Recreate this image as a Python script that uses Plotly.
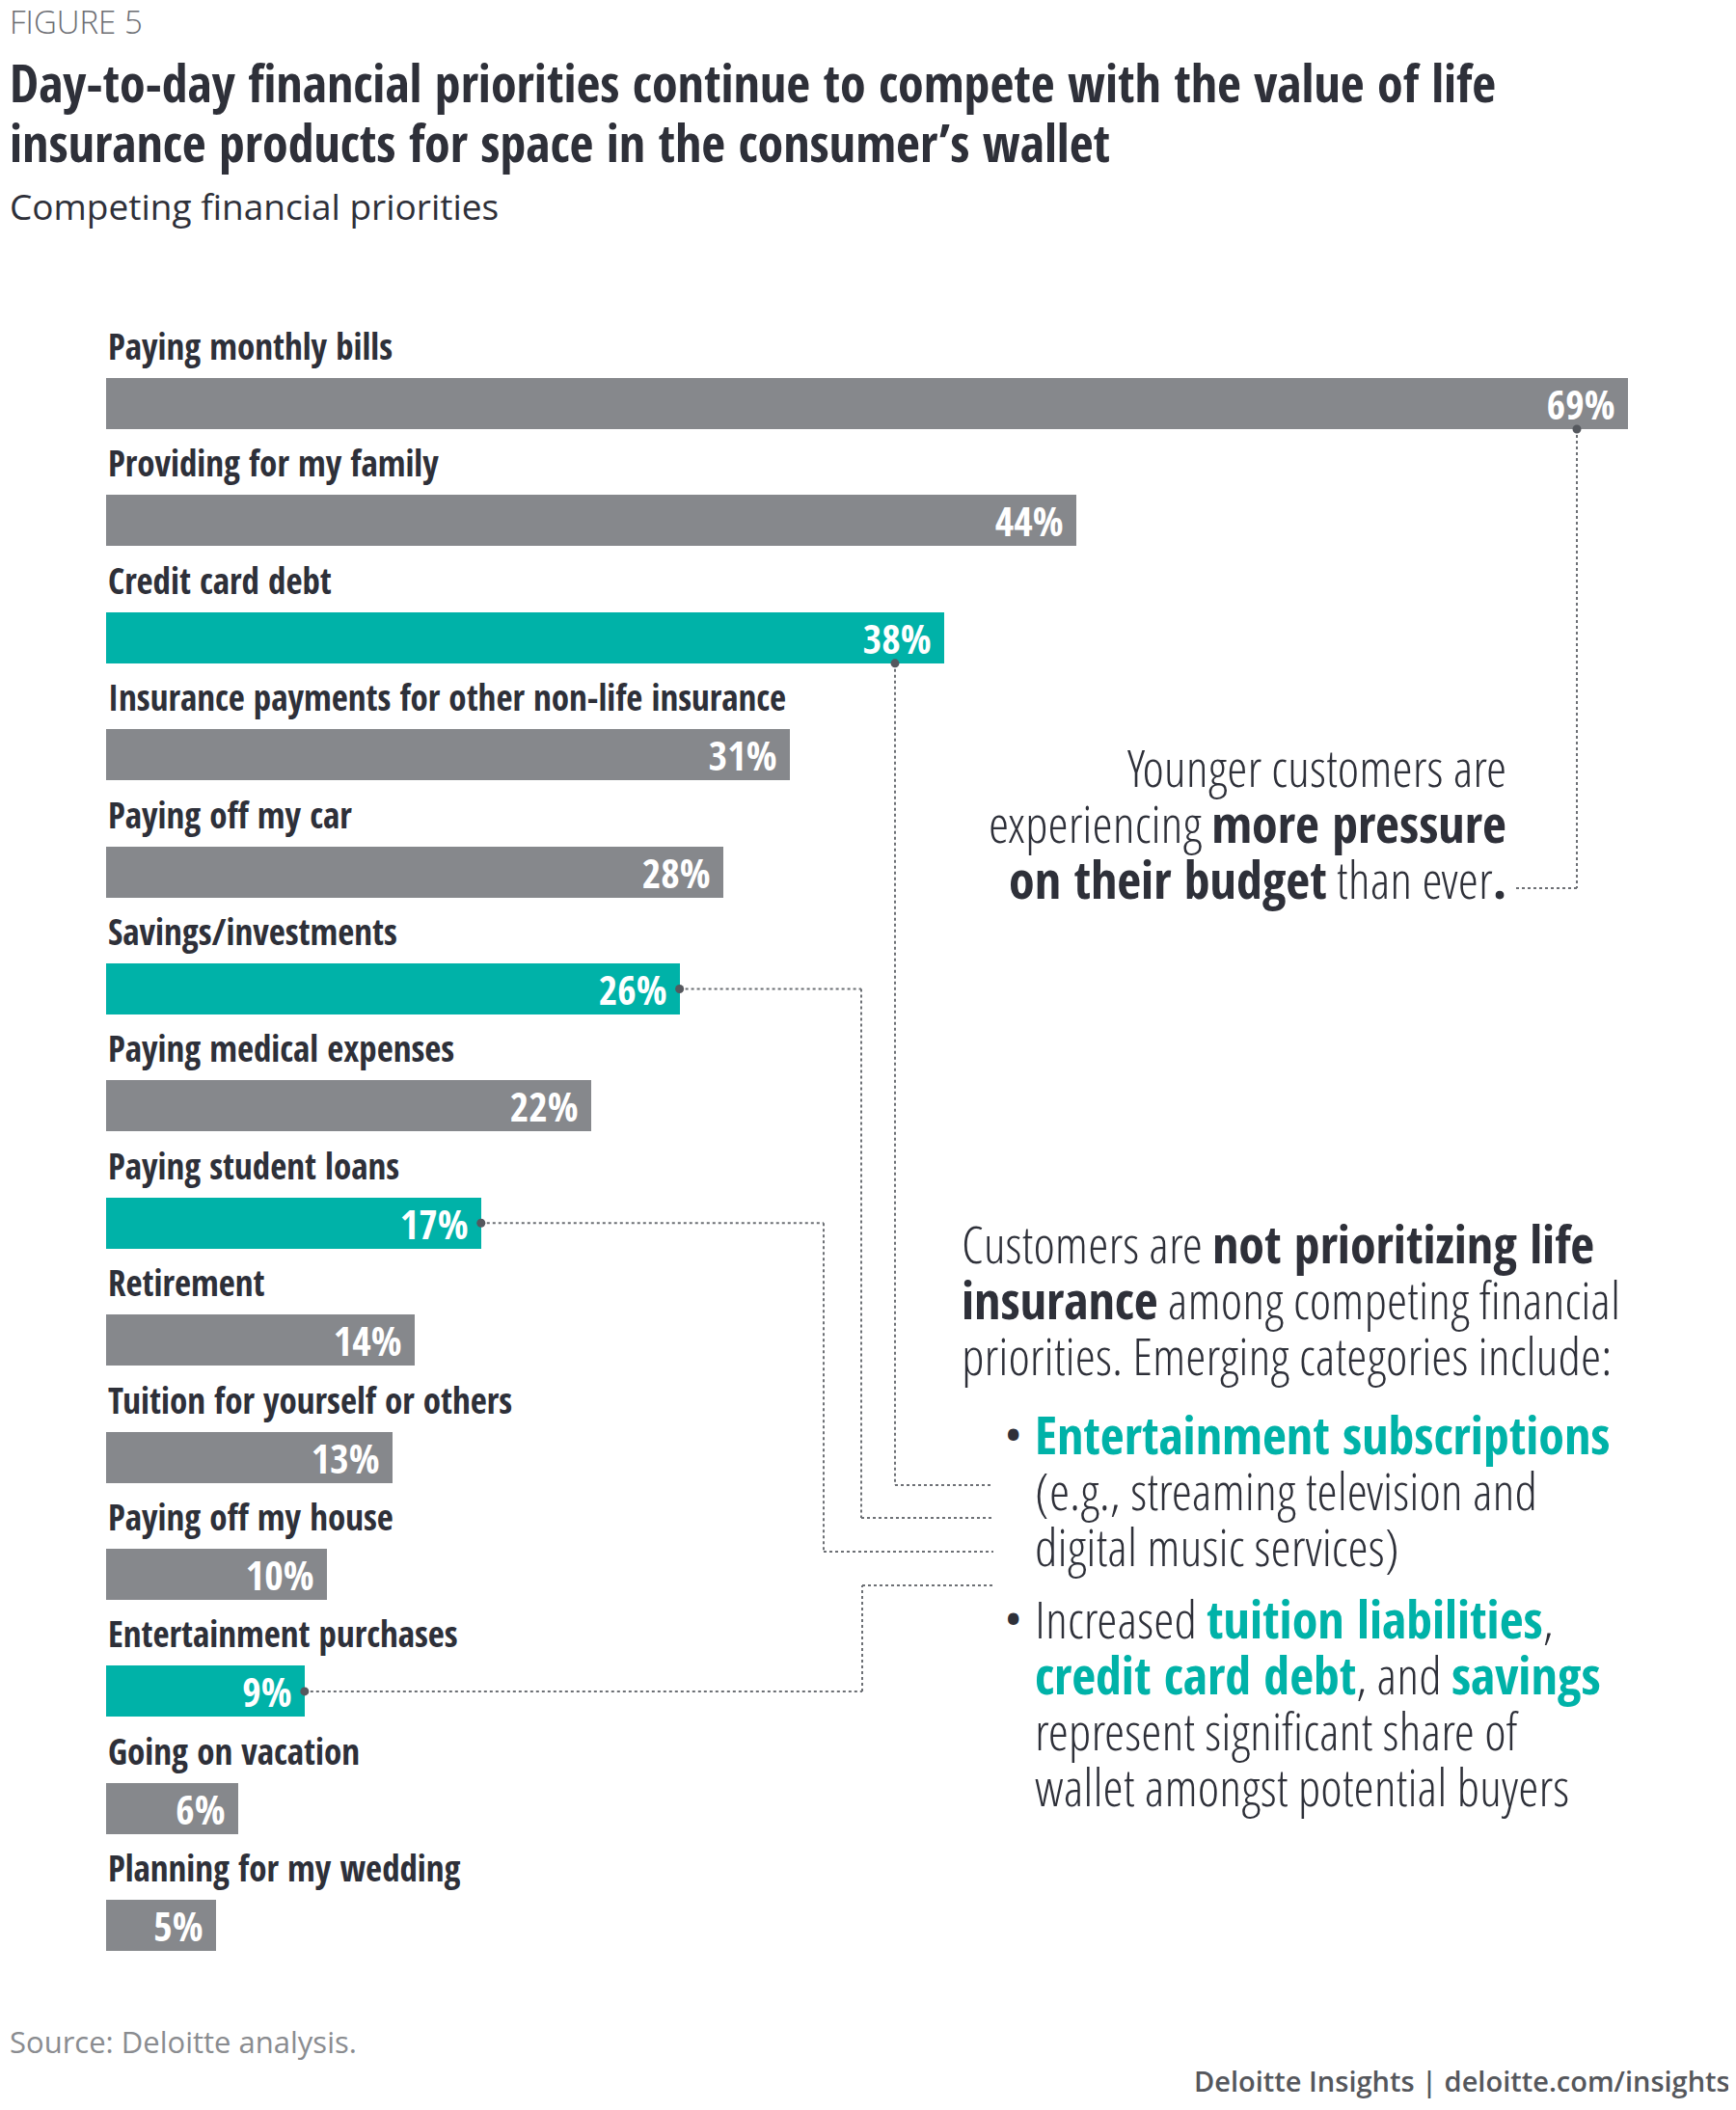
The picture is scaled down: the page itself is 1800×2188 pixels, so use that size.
import plotly.graph_objects as go

OFF = 8                      # browser body margin
W, H = 1800 - OFF, 2188 - 2 * OFF

categories = ["Paying monthly bills", "Providing for my family", "Credit card debt",
              "Insurance payments for other non-life insurance", "Paying off my car",
              "Savings/investments", "Paying medical expenses", "Paying student loans",
              "Retirement", "Tuition for yourself or others", "Paying off my house",
              "Entertainment purchases", "Going on vacation", "Planning for my wedding"]
values = [69, 44, 38, 31, 28, 26, 22, 17, 14, 13, 10, 9, 6, 5]
emerging = ["Credit card debt", "Savings/investments", "Paying student loans",
            "Entertainment purchases"]

GRAY = "#86888c"
TEAL = "#00b2a8"
DARK = "#2e3039"
DOTC = "#6d7075"
COND = "Open Sans Condensed, sans-serif"
CONDL = "Open Sans Condensed Light, Open Sans Condensed, sans-serif"
OPEN = "Open Sans, sans-serif"

# pixel geometry (reference pixels)
X0, PXU = 110, 22.87      # x=0 at px 110, 22.87 px per percent
Y0, ROW = 418.5, 121.4    # first bar centre, row step
BW = 0.437


def xp(px):
    return (px - OFF) / W


def yp(py):
    return 1 - (py - OFF) / H


def dx(px):
    return (px - X0) / PXU


def dy(py):
    return (py - Y0) / ROW


def bold(s, color=DARK):
    return f"<span style='font-family:Open Sans Condensed;font-weight:bold;color:{color}'>{s}</span>"


def teal(s):
    return bold(s, TEAL)


def text_at(px, py, txt, font, anchor="left", yanchor="middle"):
    fig.add_annotation(x=xp(px), y=yp(py), xref="paper", yref="paper", text=txt,
                       showarrow=False, xanchor=anchor, yanchor=yanchor, align=anchor,
                       font=font)


colors = [TEAL if c in emerging else GRAY for c in categories]

fig = go.Figure()
fig.add_trace(go.Bar(
    x=values, y=categories, orientation="h",
    width=BW, marker=dict(color=colors, line=dict(width=0)),
    text=[f"{v}% " for v in values], textposition="inside",
    insidetextanchor="end", constraintext="none",
    textfont=dict(family=COND, size=42, color="white", weight="bold"),
    hoverinfo="skip", showlegend=False,
))

for c in categories:
    fig.add_annotation(x=0, y=c, xref="x", yref="y", text=f"<b>{c}</b>",
                       showarrow=False, xanchor="left", yanchor="middle",
                       yshift=60, font=dict(family=COND, size=37, color=DARK))

idx = {c: i for i, c in enumerate(categories)}
paths = [
    [(dx(1635), idx["Paying monthly bills"] + BW / 2), (dx(1635), dy(921)), (dx(1572), dy(921))],
    [(dx(928), idx["Credit card debt"] + BW / 2), (dx(928), dy(1540)), (dx(1030), dy(1540))],
    [(values[idx["Savings/investments"]], idx["Savings/investments"]), (dx(893), idx["Savings/investments"]),
     (dx(893), dy(1574)), (dx(1030), dy(1574))],
    [(values[idx["Paying student loans"]], idx["Paying student loans"]), (dx(854), idx["Paying student loans"]),
     (dx(854), dy(1609)), (dx(1030), dy(1609))],
    [(values[idx["Entertainment purchases"]], idx["Entertainment purchases"]),
     (dx(894), idx["Entertainment purchases"]), (dx(894), dy(1644)), (dx(1030), dy(1644))],
]
for p in paths:
    for (xa, ya), (xb, yb) in zip(p[:-1], p[1:]):
        fig.add_shape(type="line", xref="x", yref="y", x0=xa, y0=ya, x1=xb, y1=yb,
                      line=dict(color=DOTC, width=2, dash="dot"))
    fig.add_shape(type="circle", xref="x", yref="y", xsizemode="pixel", ysizemode="pixel",
                  xanchor=p[0][0], yanchor=p[0][1], x0=-4.5, x1=4.5, y0=-4.5, y1=4.5,
                  fillcolor="#55585e", line=dict(width=0))

# header
text_at(OFF, 23, "FIGURE 5", dict(family=OPEN, size=33, color="#6b6d72", weight=300))
TITLE = dict(family=COND, size=54, color=DARK)
text_at(OFF, 85, "<b>Day-to-day financial priorities continue to compete with the value of life</b>", TITLE)
text_at(OFF, 147, "<b>insurance products for space in the consumer’s wallet</b>", TITLE)
text_at(OFF, 213, "Competing financial priorities", dict(family=OPEN, size=37, color=DARK))

# callouts, one annotation per line (baseline spacing 58 px)
LIGHT = dict(family=CONDL, size=54, color=DARK)
callout1 = ["Younger customers are",
            "experiencing " + bold("more pressure"),
            bold("on their budget") + " than ever" + bold(".")]
for k, line in enumerate(callout1):
    text_at(1564, 795 + 58 * k, line, LIGHT, anchor="right")

callout2 = ["Customers are " + bold("not prioritizing life"),
            bold("insurance") + " among competing financial",
            "priorities. Emerging categories include:"]
for k, line in enumerate(callout2):
    text_at(995, 1289 + 58 * k, line, LIGHT)

bullet1 = [teal("Entertainment subscriptions"),
           "(e.g., streaming television and",
           "digital music services)"]
for k, line in enumerate(bullet1):
    text_at(1071, 1487 + 58 * k, line, LIGHT)

bullet2 = ["Increased " + teal("tuition liabilities") + ",",
           teal("credit card debt") + ", and " + teal("savings"),
           "represent significant share of",
           "wallet amongst potential buyers"]
for k, line in enumerate(bullet2):
    text_at(1071, 1678 + 58 * k, line, LIGHT)

for by in [1486, 1677]:
    text_at(1050, by, "•", dict(family=COND, size=42, color=DARK), anchor="center")

# footer
text_at(OFF, 2117, "Source: Deloitte analysis.", dict(family=OPEN, size=31, color="#8a8c90"))
text_at(1796, 2157, "Deloitte Insights | deloitte.com/insights",
        dict(family=OPEN, size=29, color="#55575c", weight=600), anchor="right")

fig.update_layout(
    width=W, height=H,
    margin=dict(l=0, r=0, t=0, b=0),
    paper_bgcolor="white", plot_bgcolor="white",
    xaxis=dict(domain=[xp(X0), 1], range=[0, (1800 - X0) / PXU], visible=False, fixedrange=True),
    yaxis=dict(type="category", categoryorder="array", categoryarray=categories,
               range=[dy(2188 - OFF), dy(OFF)], visible=False, fixedrange=True),
    bargap=0,
)

fig.write_html("out.html")
